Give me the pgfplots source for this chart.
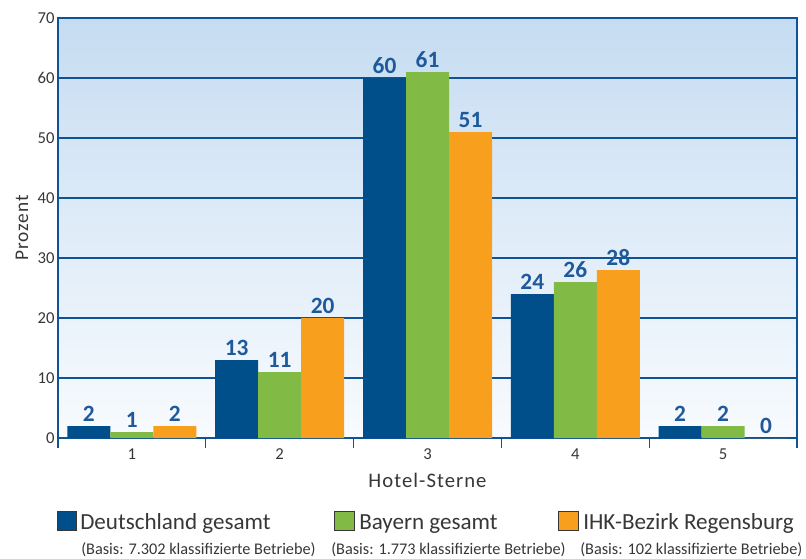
\documentclass[border=0pt]{standalone}
\usepackage{pgfplots}
\pgfplotsset{compat=1.18}
\usepackage{fontspec}
\setmainfont{Carlito}
\definecolor{gridblue}{RGB}{16,82,150}
\definecolor{dblue}{RGB}{0,78,138}
\definecolor{bgreen}{RGB}{130,186,70}
\definecolor{borange}{RGB}{248,160,30}
\definecolor{lblue}{RGB}{30,90,155}
\definecolor{bgtop}{RGB}{198,220,242}
\definecolor{bgbot}{RGB}{248,251,254}
\definecolor{txtgray}{RGB}{55,55,55}
\begin{document}
\begin{tikzpicture}
\useasboundingbox (0,0) rectangle (604.5pt,418.5pt);
\begin{axis}[
  at={(43.5pt,90pt)}, anchor=south west,
  width=554.25pt, height=315pt, scale only axis,
  /pgf/number format/assume math mode=true,
  ymin=0, ymax=70, ytick={0,10,...,70},
  xmin=0.5, xmax=5.5,
  xtick={0.5,1.5,...,5.5}, xticklabels={1,2,3,4,5}, x tick label as interval,
  xtick pos=bottom, xtick align=outside, major tick length=7.5pt,
  xtick style={draw=gridblue, line width=0.9pt},
  ytick style={draw=none},
  ymajorgrids, grid style={draw=gridblue, line width=0.9pt},
  axis line style={draw=gridblue, line width=0.9pt},
  axis background/.style={top color=bgtop, bottom color=bgbot},
  ticklabel style={font=\fontsize{12.5}{13}\selectfont, text=txtgray},
  xticklabel style={yshift=3pt},
  yticklabel style={xshift=1pt},
  ylabel={Prozent},
  ylabel style={at={(axis description cs:-0.0487,0.5)}, anchor=center, font=\fontsize{14.5}{14}\selectfont\addfontfeature{LetterSpace=5}, text=txtgray},
  xlabel={Hotel-Sterne},
  xlabel style={at={(axis description cs:0.5,-0.1)}, anchor=center, font=\fontsize{15.5}{15}\selectfont\addfontfeature{LetterSpace=5}, text=txtgray},
  ybar=0pt, bar width=32.25pt,
  nodes near coords,
  every node near coord/.append style={font=\bfseries\fontsize{17.5}{18}\selectfont, text=lblue, anchor=south, inner sep=2pt, yshift=1pt},
]
\addplot[fill=dblue, draw=none, bar shift=-32.25pt] coordinates {(1,2) (2,13) (3,60) (4,24) (5,2)};
\addplot[fill=bgreen, draw=none, bar shift=0pt] coordinates {(1,1) (2,11) (3,61) (4,26) (5,2)};
\addplot[fill=borange, draw=none, bar shift=32.25pt] coordinates {(1,2) (2,20) (3,51) (4,28) (5,0)};
\end{axis}
\begin{scope}[x=0.75pt,y=0.75pt]
\filldraw[fill=dblue, draw=txtgray, line width=0.75pt] (57,28) rectangle (76,47);
\node[anchor=base west, inner sep=0pt, text=txtgray, font=\fontsize{17.3}{17}\selectfont] at (80,29) {Deutschland gesamt};
\node[anchor=base west, inner sep=0pt, text=txtgray, font=\fontsize{12.2}{13}\selectfont] at (81,4) {(Basis: 7.302 klassifizierte Betriebe)};
\filldraw[fill=bgreen, draw=txtgray, line width=0.75pt] (334,28) rectangle (354,47);
\node[anchor=base west, inner sep=0pt, text=txtgray, font=\fontsize{17.3}{17}\selectfont] at (359,29) {Bayern gesamt};
\node[anchor=base west, inner sep=0pt, text=txtgray, font=\fontsize{12.2}{13}\selectfont] at (331,4) {(Basis: 1.773 klassifizierte Betriebe)};
\filldraw[fill=borange, draw=txtgray, line width=0.75pt] (558,28) rectangle (578,47);
\node[anchor=base west, inner sep=0pt, text=txtgray, font=\fontsize{17.3}{17}\selectfont] at (583,29) {IHK-Bezirk Regensburg};
\node[anchor=base west, inner sep=0pt, text=txtgray, font=\fontsize{12.2}{13}\selectfont] at (580,4) {(Basis: 102 klassifizierte Betriebe)};
\end{scope}
\end{tikzpicture}
\end{document}
